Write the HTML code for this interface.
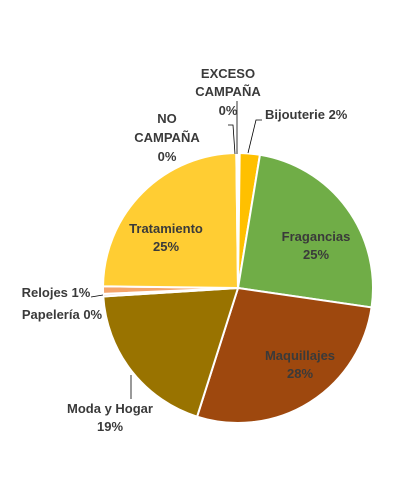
<!DOCTYPE html>
<html><head><meta charset="utf-8"><style>
html,body{margin:0;padding:0;background:#fff;}
svg{display:block;font-family:"Liberation Sans",Arial,sans-serif;font-weight:bold;font-size:13px;}
</style></head><body>
<svg id="chart" width="410" height="490" viewBox="0 0 410 490">
<g id="slices"></g>
<g id="labels" fill="#3a3a3a" text-anchor="middle">
<line x1="237" y1="154" x2="237" y2="101" stroke="#000" stroke-width="0.8"/>
<text x="228" y="78">EXCESO</text>
<text x="228" y="96">CAMPAÑA</text>
<text x="228" y="115">0%</text>
<polyline points="235,154 233,125 228,125" fill="none" stroke="#000" stroke-width="0.8"/>
<text x="167" y="123">NO</text>
<text x="167" y="142">CAMPAÑA</text>
<text x="167" y="161">0%</text>
<polyline points="248,153 256,120 262,120" fill="none" stroke="#000" stroke-width="0.8"/>
<text x="265" y="119" text-anchor="start">Bijouterie 2%</text>
<text x="316" y="241">Fragancias</text>
<text x="316" y="259">25%</text>
<text x="300" y="360">Maquillajes</text>
<text x="300" y="378">28%</text>
<line x1="131" y1="399" x2="131" y2="375" stroke="#000" stroke-width="0.8"/>
<text x="110" y="413">Moda y Hogar</text>
<text x="110" y="431">19%</text>
<line x1="91" y1="297" x2="103" y2="295" stroke="#000" stroke-width="0.8"/>
<text x="56" y="297">Relojes 1%</text>
<text x="62" y="319">Papelería 0%</text>
<text x="166" y="233">Tratamiento</text>
<text x="166" y="251">25%</text>
</g>
</svg>
<script>
const categories=["EXCESO CAMPAÑA","Bijouterie","Fragancias","Maquillajes","Moda y Hogar","Papelería","Relojes","Tratamiento","NO CAMPAÑA"];
const values=[0.2,2.4,24.7,27.6,19.1,0.3,0.9,24.6,0.2];
const colors=["#FFC000","#FFC000","#70AD47","#9E480E","#997300","#F8CBAD","#F4A46A","#FFCD33","#FFCD33"];
const cx=238,cy=288,r=135;
const g=document.getElementById('slices');
const total=values.reduce((a,b)=>a+b,0);
let acc=0;
function pt(f){const a=f*2*Math.PI;return [cx+r*Math.sin(a),cy-r*Math.cos(a)];}
values.forEach((v,i)=>{
 const s=acc/total,e=(acc+v)/total;acc+=v;
 const p1=pt(s),p2=pt(e);
 const large=(e-s)>0.5?1:0;
 const p=document.createElementNS('http://www.w3.org/2000/svg','path');
 p.setAttribute('d',`M${cx},${cy}L${p1[0]},${p1[1]}A${r},${r} 0 ${large} 1 ${p2[0]},${p2[1]}Z`);
 p.setAttribute('fill',colors[i]);
 p.setAttribute('stroke','#fff');
 p.setAttribute('stroke-width','2');
 
 
 g.appendChild(p);
});
</script>
</body></html>
